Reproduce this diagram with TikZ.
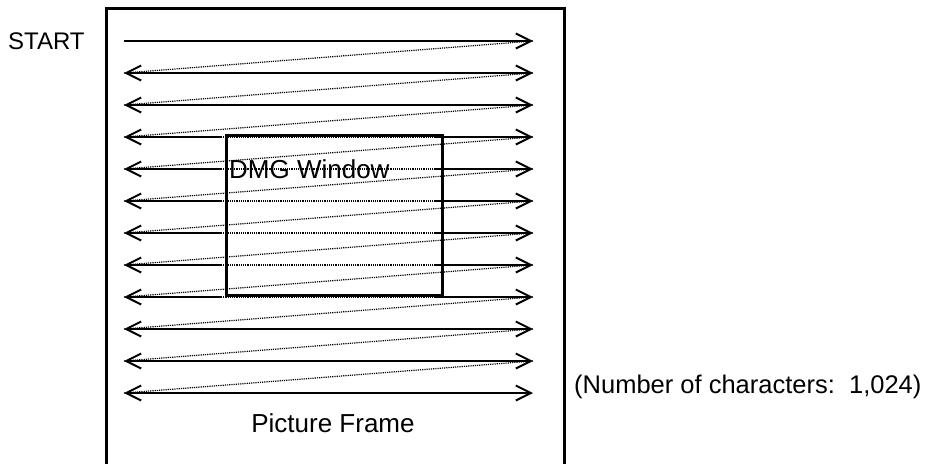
\documentclass[tikz,border=0pt]{standalone}
\usepackage{fontspec}
\setmainfont{Liberation Sans}
\usetikzlibrary{arrows.meta}
\begin{document}
\begin{tikzpicture}[x=1pt,y=-1pt,
  rowline/.style={line width=2pt},
  retrace/.style={line width=1.2pt, dash pattern=on 1.2pt off 1pt},
  tipR/.style={-{Straight Barb[length=15pt,width=15pt]}},
  tipL/.style={{Straight Barb[length=15pt,width=15pt]}-},
  tipB/.style={{Straight Barb[length=15pt,width=15pt]}-{Straight Barb[length=15pt,width=15pt]}},
  lbl/.style={inner sep=0pt, text=black}
]
\useasboundingbox (0,0) rectangle (928,463);
% row end points
\foreach \i in {0,...,11}{
  \coordinate (L\i) at (124,{41+32*\i});
  \coordinate (R\i) at (533,{41+32*\i});
}
% retrace (dotted diagonals)
\foreach \i [evaluate=\i as \j using int(\i+1)] in {0,...,9,10}{
  \draw[retrace] (R\i) -- (L\j);
}
% scan lines
\draw[rowline,tipR] (L0) -- (R0);
\foreach \i in {1,2,9,10,11}{
  \draw[rowline,tipB] (L\i) -- (R\i);
}
\foreach \i in {3,...,8}{
  \coordinate (A\i) at (221,{41+32*\i});
  \coordinate (B\i) at (435,{41+32*\i});
  \draw[rowline,tipL] (L\i) -- (A\i);
  \draw[retrace] (A\i) -- (B\i);
  \draw[rowline,tipR] (B\i) -- (R\i);
}
% DMG window
\node[draw, line width=3pt, minimum width=216pt, minimum height=160pt,
      anchor=north west, outer sep=0pt, inner sep=0pt] (win) at (226,135.5) {};
% picture frame
\draw[line width=3pt] (106,470) -- (106,8) -- (564,8) -- (564,470);
% labels
\node[lbl, anchor=base west, font=\fontsize{24}{28}\selectfont] (start) at (8,49.5) {START};
\node[lbl, anchor=base west, font=\fontsize{26}{30}\selectfont] (dmg) at (229,178.5) {DMG Window};
\node[lbl, anchor=base, font=\fontsize{26}{30}\selectfont] (pf) at (333,432.5) {Picture Frame};
\node[lbl, anchor=base west, font=\fontsize{25.5}{30}\selectfont] (num) at (574,393.5) {(Number of characters:\ \ 1,024)};
\end{tikzpicture}
\end{document}
